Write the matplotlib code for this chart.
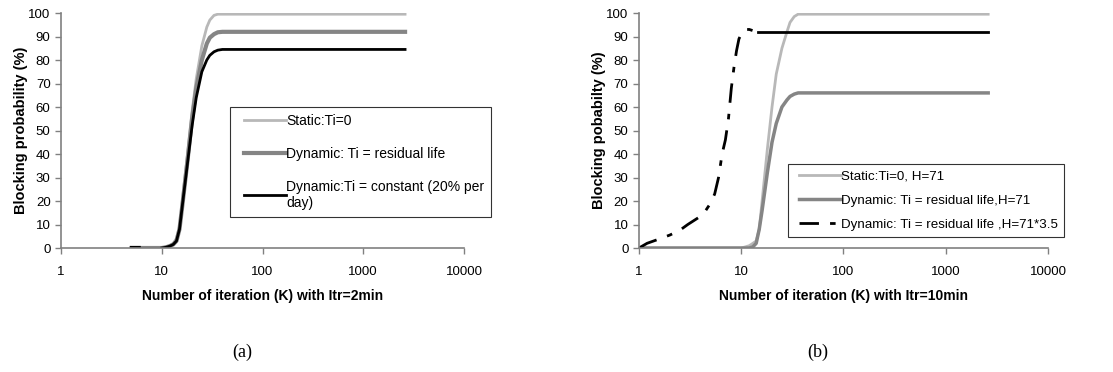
import matplotlib
matplotlib.use("Agg")
import numpy as np
import matplotlib.pyplot as plt
from matplotlib.ticker import FixedLocator, FixedFormatter, NullLocator
from matplotlib.legend_handler import HandlerLine2D

plt.rcParams['font.family'] = ['Liberation Sans', 'DejaVu Sans']

# ---- Panel (a) data ----
a_x = [5, 6, 9, 10, 11, 12, 13, 14, 15, 16, 18, 20, 22, 25, 28, 30, 33, 36, 40, 50, 100, 1000, 2600]
a_static = [0, 0, 0, 0, 0.5, 1, 2, 4, 9, 20, 40, 58, 72, 86, 94, 97, 99, 99.5, 99.5, 99.5, 99.5, 99.5, 99.5]
a_resid = [0, 0, 0, 0, 0.3, 0.8, 1.5, 3, 8, 18, 37, 55, 68, 80, 87, 89.5, 91, 91.8, 92, 92, 92, 92, 92]
a_const = [0.3, 0.3, np.nan, 0, 0.3, 0.8, 1.5, 3, 8, 18, 36, 52, 64, 75, 80, 82, 83.5, 84.2, 84.5, 84.5, 84.5, 84.5, 84.5]

# ---- Panel (b) data ----
b_x = [1, 5, 9, 10, 11, 12, 13, 14, 15, 16, 18, 20, 22, 25, 28, 30, 33, 36, 40, 50, 100, 1000, 2600]
b_static = [0, 0, 0, 0, 0.5, 1, 2, 3, 8, 20, 42, 60, 74, 85, 92, 96, 98.5, 99.5, 99.5, 99.5, 99.5, 99.5, 99.5]
b_resid = [0, 0, 0, 0, 0, 0, 0.5, 2, 8, 16, 32, 45, 53, 60, 63, 64.5, 65.5, 66, 66, 66, 66, 66, 66]
c_x = [1, 1.2, 1.5, 2, 2.5, 3, 4, 4.5, 5, 5.5, 6, 6.5, 7, 7.5, 8, 8.5, 9, 9.5, 10, 11, 12, 13, 14.5, 100, 1000, 2600]
c_dyn = [0, 2, 3.5, 5.5, 7.5, 10, 13.5, 16, 19, 23, 30, 40, 46, 55, 68, 77, 84, 89, 91, 93, 93, 92.5, 92, 92, 92, 92]
c_split = 21  # index where the dash-dot rise turns into the flat plateau

yticks = [0, 10, 20, 30, 40, 50, 60, 70, 80, 90, 100]
xticks = [1, 10, 100, 1000, 10000]
xticklabels = ['1', '10', '100', '1000', '10000']

LIGHT = '#b8b8b8'
MID = '#858585'
SPINE = '#808080'

fig = plt.figure(figsize=(11.13, 3.72), dpi=100)
axA = fig.add_axes([0.0548, 0.3333, 0.3621, 0.6317])
axB = fig.add_axes([0.5741, 0.3333, 0.3675, 0.6317])

def style(ax, xlabel, ylabel):
    ax.set_xscale('log')
    ax.set_xlim(1, 10000)
    ax.set_ylim(0, 100)
    ax.xaxis.set_major_locator(FixedLocator(xticks))
    ax.xaxis.set_major_formatter(FixedFormatter(xticklabels))
    ax.xaxis.set_minor_locator(NullLocator())
    ax.set_yticks(yticks)
    for s in ['top', 'right']:
        ax.spines[s].set_visible(False)
    for s in ['left', 'bottom']:
        ax.spines[s].set_color(SPINE)
        ax.spines[s].set_linewidth(1.2)
    ax.tick_params(axis='both', colors=SPINE, labelcolor='black', labelsize=9.5, length=4, width=1)
    ax.tick_params(axis='x', pad=9)
    ax.set_xlabel(xlabel, fontsize=10, fontweight='bold', labelpad=8)
    ax.set_ylabel(ylabel, fontsize=10.5, fontweight='bold', labelpad=0)

l1, = axA.plot(a_x, a_static, color=LIGHT, lw=2, label='Static:Ti=0')
l2, = axA.plot(a_x, a_resid, color=MID, lw=3, label='Dynamic: Ti = residual life')
l3, = axA.plot(a_x, a_const, color='black', lw=2, label='Dynamic:Ti = constant (20% per\nday)')
style(axA, 'Number of iteration (K) with Itr=2min', 'Blocking probability (%)')
hA = {h: HandlerLine2D(xpad=0.5) for h in (l1, l2, l3)}
legA = fig.legend(handles=[l1, l2, l3], loc='upper left', bbox_to_anchor=(0.2067, 0.712),
                  frameon=True, fancybox=False, edgecolor='black', fontsize=10,
                  handlelength=3.5, handletextpad=0.05, labelspacing=1.35, borderpad=0.5,
                  borderaxespad=0, handler_map=hA)
legA.get_frame().set_linewidth(0.8)

m1, = axB.plot(b_x, b_static, color=LIGHT, lw=2, label='Static:Ti=0, H=71')
m2, = axB.plot(b_x, b_resid, color=MID, lw=2.5, label='Dynamic: Ti = residual life,H=71')
m3, = axB.plot(c_x[:c_split + 1], c_dyn[:c_split + 1], color='black', lw=2,
               dashes=(7, 4, 2, 4), label='Dynamic: Ti = residual life ,H=71*3.5')
axB.plot(c_x[c_split + 1:], c_dyn[c_split + 1:], color='black', lw=2)
style(axB, 'Number of iteration (K) with Itr=10min', 'Blocking pobabilty (%)')
hB = {h: HandlerLine2D(xpad=0.4) for h in (m1, m2, m3)}
legB = fig.legend(handles=[m1, m2, m3], loc='upper left', bbox_to_anchor=(0.708, 0.559),
                  frameon=True, fancybox=False, edgecolor='black', fontsize=9.6,
                  handlelength=3.5, handletextpad=0.05, labelspacing=0.9, borderpad=0.45,
                  borderaxespad=0, handler_map=hB)
legB.get_frame().set_linewidth(0.8)

fig.text(0.2175, 0.053, '(a)', family=['Liberation Serif'], fontsize=13, ha='center', va='center')
fig.text(0.735, 0.053, '(b)', family=['Liberation Serif'], fontsize=13, ha='center', va='center')

fig.savefig('out.png', dpi=100)
